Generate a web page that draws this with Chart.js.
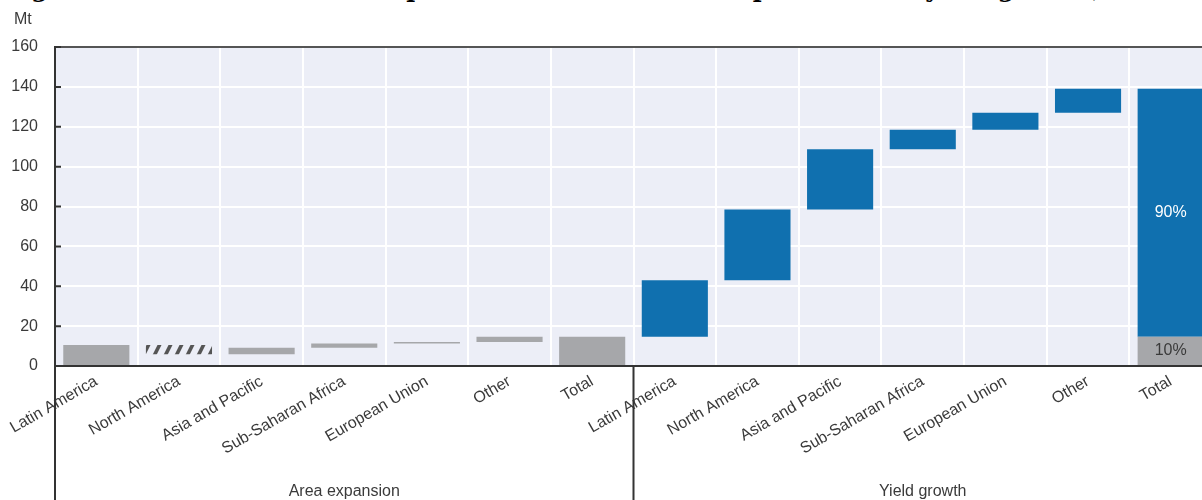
<!DOCTYPE html>
<html lang="en">
<head>
    <meta charset="UTF-8">
    <title>Increase in production due to area expansion and yield growth</title>
    <script src="https://cdn.jsdelivr.net/npm/chart.js"></script>
    <style>
        body { margin: 0; width: 1202px; height: 500px; overflow: hidden; background: #fff; position: relative; }
        #title { position: absolute; left: 5px; top: -23px; margin: 0; white-space: nowrap;
                 font: bold 24px/24px "DejaVu Serif", serif; color: #000; }
        #wrap { position: absolute; left: 0; top: 0; width: 1212px; height: 500px; }
    </style>
</head>
<body>
<h1 id="title">Figure 3.4. Increase in maize production due to area expansion and yield growth, 2021-2031</h1>
<div id="wrap">
    <canvas id="waterfall"></canvas>
</div>

<script>
// values, Mt
var regions = ['Latin America', 'North America', 'Asia and Pacific', 'Sub-Saharan Africa', 'European Union', 'Other'];
var groups = ['Area expansion', 'Yield growth'];
var areaGrowth = [10.5, -4.6, 3.3, 2.1, 0.7, 2.7];
var yieldGrowth = [28.3, 35.5, 30.2, 9.8, 8.5, 12.0];
var shareLabels = ['10%', '90%'];
var unitLabel = 'Mt';

var grey = '#A6A7AA';
var blue = '#1070AF';
var textColor = '#3a3a3a';

// condensed face if the machine has it
function hasFont(name) {
    var g = document.createElement('canvas').getContext('2d');
    g.font = '20px monospace';
    var w1 = g.measureText('Latin America 160').width;
    g.font = '20px "' + name + '", monospace';
    return g.measureText('Latin America 160').width !== w1;
}
var narrow = hasFont('Liberation Sans Narrow');
var family = narrow ? '"Liberation Sans Narrow", "Liberation Sans", sans-serif' : '"Liberation Sans", Arial, sans-serif';
var fontSize = narrow ? 19 : 16;

var labels = regions.concat(['Total'], regions, ['Total']);

// waterfall ranges
var areaData = [];
var yieldData = [];
var run = 0;
areaGrowth.forEach(function (v) {
    areaData.push([run, run + v]);
    yieldData.push(null);
    run += v;
});
var areaTotal = run;
areaData.push([0, areaTotal]);
yieldData.push(null);
yieldGrowth.forEach(function (v) {
    areaData.push(null);
    yieldData.push([run, run + v]);
    run += v;
});
areaData.push([0, areaTotal]);
yieldData.push([areaTotal, run]);

// hatch for decreases: steep "/" stripes
function hatch() {
    var c = document.createElement('canvas');
    c.width = 11; c.height = 22;
    var g = c.getContext('2d');
    g.fillStyle = '#555';
    [-11, 0, 11].forEach(function (dx) {
        g.beginPath();
        g.moveTo(dx, 22); g.lineTo(dx + 4, 22);
        g.lineTo(dx + 15, 0); g.lineTo(dx + 11, 0);
        g.closePath();
        g.fill();
    });
    return document.getElementById('waterfall').getContext('2d').createPattern(c, 'repeat');
}
var hatchPattern = hatch();
var areaColors = areaData.map(function (d) {
    return d && d[1] < d[0] ? hatchPattern : grey;
});

var plotBg = {
    id: 'plotBg',
    beforeDraw: function (chart) {
        var a = chart.chartArea, ctx = chart.ctx;
        ctx.save();
        ctx.fillStyle = '#ECEEF7';
        ctx.fillRect(a.left, a.top, a.right - a.left, a.bottom - a.top);
        ctx.restore();
    }
};

var decor = {
    id: 'decor',
    afterDraw: function (chart) {
        var ctx = chart.ctx, a = chart.chartArea;
        var x = chart.scales.x, y = chart.scales.y;
        var mid = (x.getPixelForValue(6) + x.getPixelForValue(7)) / 2;
        ctx.save();
        ctx.strokeStyle = '#333';
        ctx.lineWidth = 2;
        ctx.beginPath();
        ctx.moveTo(a.left, a.top); ctx.lineTo(a.left, chart.height);
        ctx.moveTo(mid, a.bottom); ctx.lineTo(mid, chart.height);
        y.ticks.forEach(function (t) {
            var py = y.getPixelForValue(t.value);
            ctx.moveTo(a.left, py); ctx.lineTo(a.left + 6, py);
        });
        ctx.stroke();

        ctx.fillStyle = textColor;
        ctx.font = fontSize + 'px ' + family;
        ctx.textAlign = 'center';
        ctx.textBaseline = 'alphabetic';
        ctx.fillText(groups[0], (a.left + mid) / 2, 496);
        ctx.fillText(groups[1], (mid + a.right) / 2, 496);

        ctx.textAlign = 'left';
        ctx.fillText(unitLabel, 14, 24);

        ctx.textAlign = 'center';
        ctx.textBaseline = 'middle';
        var gp = chart.getDatasetMeta(0).data[13].getCenterPoint();
        ctx.fillText(shareLabels[0], gp.x, gp.y);
        var bp = chart.getDatasetMeta(1).data[13].getCenterPoint();
        ctx.fillStyle = '#fff';
        ctx.fillText(shareLabels[1], bp.x, bp.y);
        ctx.restore();
    }
};

var ctx = document.getElementById('waterfall').getContext('2d');
var chart = new Chart(ctx, {
    type: 'bar',
    data: {
        labels: labels,
        datasets: [{
            label: groups[0],
            data: areaData,
            backgroundColor: areaColors,
            grouped: false,
            categoryPercentage: 1,
            barPercentage: 0.8
        }, {
            label: groups[1],
            data: yieldData,
            backgroundColor: blue,
            grouped: false,
            categoryPercentage: 1,
            barPercentage: 0.8
        }]
    },
    options: {
        responsive: true,
        maintainAspectRatio: false,
        animation: false,
        layout: { padding: { top: 47, left: 0, right: 0, bottom: 0 } },
        plugins: {
            legend: { display: false },
            tooltip: { enabled: false }
        },
        scales: {
            x: {
                grid: { color: '#fff', lineWidth: 2, offset: true, drawTicks: false },
                border: { color: '#333', width: 2 },
                ticks: {
                    autoSkip: false,
                    minRotation: 30,
                    maxRotation: 30,
                    padding: 6,
                    color: textColor,
                    font: { family: family, size: fontSize }
                },
                afterFit: function (scale) { scale.height = 134; }
            },
            y: {
                min: 0,
                max: 160,
                ticks: {
                    stepSize: 20,
                    padding: 17,
                    color: textColor,
                    font: { family: family, size: fontSize }
                },
                grid: {
                    drawTicks: false,
                    lineWidth: 2,
                    color: function (c) { return c.tick && c.tick.value === 160 ? '#555' : '#fff'; }
                },
                border: { color: '#333', width: 2 },
                afterFit: function (scale) { scale.width = 55; }
            }
        }
    },
    plugins: [plotBg, decor]
});
</script>
</body>
</html>
